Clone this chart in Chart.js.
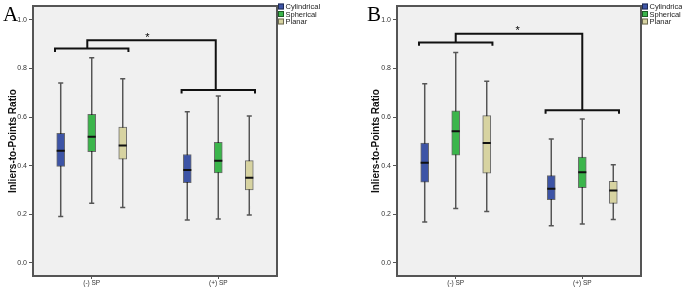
<!DOCTYPE html>
<html><head><meta charset="utf-8">
<script src="https://cdn.jsdelivr.net/npm/chart.js@4/dist/chart.umd.min.js"></script>
<style>
html,body{margin:0;padding:0;background:#fff;}
#wrap{position:relative;width:682px;height:291px;overflow:hidden;background:#fff;}
.pane{position:absolute;top:0;width:341px;height:291px;}
canvas{display:block;}
</style></head><body>
<div id="wrap">
<div class="pane" style="left:0"><canvas id="cA" width="341" height="291" style="width:341px;height:291px"></canvas></div>
<div class="pane" style="left:341px"><canvas id="cB" width="341" height="291" style="width:341px;height:291px"></canvas></div>
</div>
<script>
// ---------- data ----------
const categories = ['(-) SP', '(+) SP'];
const seriesNames = ['Cylindrical', 'Spherical', 'Planar'];
const yTicks = [0.0, 0.2, 0.4, 0.6, 0.8, 1.0];
// each entry: [min, q1, median, q3, max] per category
const aCylindrical = [[0.191, 0.397, 0.461, 0.533, 0.740], [0.176, 0.330, 0.382, 0.446, 0.622]];
const aSpherical   = [[0.245, 0.458, 0.519, 0.611, 0.844], [0.180, 0.370, 0.420, 0.496, 0.687]];
const aPlanar      = [[0.228, 0.427, 0.483, 0.559, 0.758], [0.197, 0.300, 0.350, 0.421, 0.604]];
const bCylindrical = [[0.168, 0.332, 0.412, 0.493, 0.737], [0.153, 0.260, 0.305, 0.359, 0.510]];
const bSpherical   = [[0.224, 0.443, 0.542, 0.626, 0.866], [0.160, 0.309, 0.373, 0.435, 0.592]];
const bPlanar      = [[0.211, 0.369, 0.493, 0.606, 0.747], [0.178, 0.245, 0.298, 0.335, 0.404]];
// significance bracket levels: [(-) group bar, connector, (+) group bar]
const aBracketLevels = [0.882, 0.916, 0.711];
const bBracketLevels = [0.907, 0.943, 0.628];
// star annotation [x, y] in axis units
const aStar = [1.44, 0.937];
const bStar = [1.49, 0.965];

// ---------- styles ----------
const seriesColors = ['#3d54a6', '#3bb54b', '#d7d3a1'];
const boxBorder = 'rgba(0,0,0,0.55)';
const groupOffsets = [-0.245, 0, 0.245];
const FONT = '"Liberation Sans", Arial, sans-serif';
Chart.defaults.font.family = FONT;
Chart.defaults.animation = false;

function buildDatasets(stats, levels, stemOffsets) {
  const ds = [];
  const capHalf = 0.02, medHalf = 0.032;
  stats.forEach((series, s) => {
    const bars = [], whisk = [], meds = [];
    series.forEach((b, i) => {
      const x = i + 1 + groupOffsets[s];
      bars.push({x: x, y: [b[1], b[3]]});
      whisk.push({x: x, y: b[0]}, {x: x, y: b[4]}, {x: x, y: null},
                 {x: x - capHalf, y: b[4]}, {x: x + capHalf, y: b[4]}, {x: x, y: null},
                 {x: x - capHalf, y: b[0]}, {x: x + capHalf, y: b[0]}, {x: x, y: null});
      meds.push({x: x - medHalf, y: b[2]}, {x: x + medHalf, y: b[2]}, {x: x, y: null});
    });
    ds.push({type: 'line', label: seriesNames[s] + ' whiskers', data: whisk, borderColor: '#555',
             borderWidth: 1.5, pointRadius: 0, spanGaps: false, fill: false, order: 3});
    ds.push({type: 'bar', label: seriesNames[s], data: bars, backgroundColor: seriesColors[s],
             borderColor: boxBorder, borderWidth: 1, borderSkipped: false, barThickness: 8,
             grouped: false, order: 2});
    ds.push({type: 'line', label: seriesNames[s] + ' median', data: meds, borderColor: '#111',
             borderWidth: 2, pointRadius: 0, spanGaps: false, fill: false, order: 1});
  });
  const w = 0.29, d = 0.014;
  const c1 = 1, c2 = 2;
  const br = [
    {x: c1 - w, y: levels[0] - d}, {x: c1 - w, y: levels[0]}, {x: c1 + w, y: levels[0]}, {x: c1 + w, y: levels[0] - d}, {x: c1, y: null},
    {x: c1 + stemOffsets[0], y: levels[0]}, {x: c1 + stemOffsets[0], y: levels[1]}, {x: c2 + stemOffsets[1], y: levels[1]}, {x: c2 + stemOffsets[1], y: levels[2]}, {x: c2, y: null},
    {x: c2 - w, y: levels[2] - d}, {x: c2 - w, y: levels[2]}, {x: c2 + w, y: levels[2]}, {x: c2 + w, y: levels[2] - d}
  ];
  ds.push({type: 'line', label: 'bracket', data: br, borderColor: '#111', borderWidth: 2,
           pointRadius: 0, spanGaps: false, fill: false, order: 0, borderJoinStyle: 'miter', borderCapStyle: 'butt'});
  return ds;
}

const framePlugin = {
  id: 'frame',
  beforeDraw(chart) {
    const a = chart.chartArea, ctx = chart.ctx;
    ctx.save();
    ctx.fillStyle = '#f0f0f0';
    ctx.fillRect(a.left, a.top, a.right - a.left, a.bottom - a.top);
    ctx.restore();
  },
  afterDraw(chart) {
    const a = chart.chartArea, ctx = chart.ctx, o = chart.options.plugins.frame;
    ctx.save();
    const L = Math.round(a.left), R = Math.round(a.right);
    const T = Math.round(a.top), B = Math.round(a.bottom);
    ctx.fillStyle = '#555';
    ctx.fillRect(L - 1, T - 1, R - L + 2, 2);  // top
    ctx.fillRect(R - 1, T - 1, 2, B - T + 2);  // right
    ctx.fillRect(L - 1, T - 1, 2, B - T + 2);  // left
    ctx.fillRect(L - 1, B - 1, R - L + 2, 2);  // bottom
    // panel letter
    ctx.fillStyle = '#000';
    ctx.font = '21px "Liberation Serif", "Times New Roman", serif';
    ctx.textBaseline = 'alphabetic';
    ctx.textAlign = 'left';
    ctx.fillText(o.letter, o.letterX, 21);
    // star
    const xs = chart.scales.x, ys = chart.scales.y;
    ctx.font = '11px ' + FONT;
    ctx.textAlign = 'center';
    ctx.fillText('*', xs.getPixelForValue(o.star[0]), ys.getPixelForValue(o.star[1]) + 6);
    // legend
    ctx.font = '7.5px ' + FONT;
    ctx.textBaseline = 'middle';
    ctx.textAlign = 'left';
    seriesNames.forEach((n, k) => {
      const x = Math.round(a.right) + 1, y = 6.5 + k * 7.5;
      ctx.fillStyle = seriesColors[k];
      ctx.fillRect(x, y - 3, 6, 6);
      ctx.strokeStyle = 'rgba(0,0,0,0.5)';
      ctx.lineWidth = 1;
      ctx.strokeRect(x + 0.5, y - 3 + 0.5, 5, 5);
      ctx.fillStyle = '#222';
      ctx.fillText(n, x + 7.5, y + 0.5);
    });
    ctx.restore();
  }
};

function makePanel(id, stats, levels, stemOffsets, star, letter, letterX, pad, yWidth) {
  new Chart(document.getElementById(id), {
    type: 'bar',
    data: {datasets: buildDatasets(stats, levels, stemOffsets)},
    options: {
      responsive: false,
      animation: false,
      layout: {padding: pad},
      plugins: {legend: {display: false}, tooltip: {enabled: false},
                frame: {letter: letter, letterX: letterX, star: star}},
      scales: {
        x: {
          type: 'linear', min: 0.536, max: 2.464, offset: false,
          afterBuildTicks: s => { s.ticks = categories.map((c, i) => ({value: i + 1})); },
          afterFit: s => { s.height = 15; },
          ticks: {callback: v => categories[Math.round(v) - 1], font: {size: 6.5}, color: '#333',
                  padding: 0, maxRotation: 0, autoSkip: false},
          grid: {drawOnChartArea: false, tickLength: 3, color: '#555', offset: false},
          border: {display: true, color: '#555'}
        },
        y: {
          type: 'linear', min: -0.054, max: 1.056,
          afterBuildTicks: s => { s.ticks = yTicks.map(v => ({value: v})); },
          afterFit: s => { s.width = yWidth; },
          ticks: {callback: v => Number(v).toFixed(1), font: {size: 7}, color: '#333', padding: 2},
          grid: {drawOnChartArea: false, tickLength: 4, color: '#555'},
          border: {display: true, color: '#555'},
          title: {display: true, text: 'Inliers-to-Points Ratio', font: {size: 10, weight: 'bold'},
                  color: '#111', padding: {top: 7, bottom: 0}}
        }
      }
    },
    plugins: [framePlugin]
  });
}

makePanel('cA', [aCylindrical, aSpherical, aPlanar], aBracketLevels, [-0.035, -0.02], aStar, 'A', 3,
          {left: 0, right: 64, top: 3, bottom: 0}, 33);
makePanel('cB', [bCylindrical, bSpherical, bPlanar], bBracketLevels, [0, 0], bStar, 'B', 26,
          {left: 22, right: 41, top: 3, bottom: 0}, 34);
</script>
</body></html>
